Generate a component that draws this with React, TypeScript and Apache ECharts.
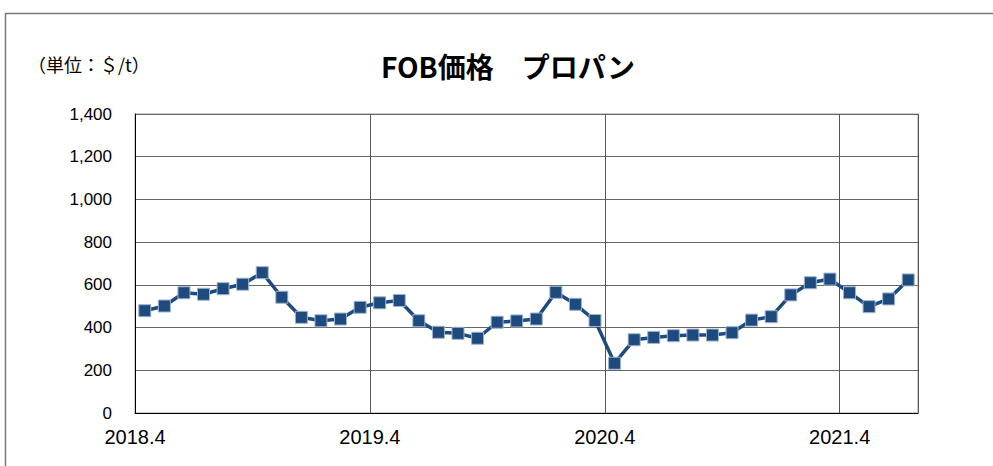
import React, { useEffect, useRef } from "react";
import * as echarts from "echarts";

const months: string[] = [
  "2018.4", "2018.5", "2018.6", "2018.7", "2018.8", "2018.9", "2018.10", "2018.11", "2018.12", "2019.1", "2019.2", "2019.3",
  "2019.4", "2019.5", "2019.6", "2019.7", "2019.8", "2019.9", "2019.10", "2019.11", "2019.12", "2020.1", "2020.2", "2020.3",
  "2020.4", "2020.5", "2020.6", "2020.7", "2020.8", "2020.9", "2020.10", "2020.11", "2020.12", "2021.1", "2021.2", "2021.3",
  "2021.4", "2021.5", "2021.6", "2021.7",
];

const propanePrice: number[] = [
  479, 501, 563, 556, 582, 603, 657, 542, 448, 432, 440, 495,
  516, 527, 432, 378, 373, 350, 425, 431, 440, 565, 509, 433,
  233, 343, 354, 362, 365, 365, 376, 435, 451, 553, 610, 627,
  563, 498, 534, 623,
];

const labeledTicks: number[] = [0, 12, 24, 36];
const yTicks = { min: 0, max: 1400, interval: 200 };

const titleText = "FOB価格　プロパン";
const unitText = "（単位：＄/t）";

export default function App() {
  const ref = useRef<HTMLDivElement>(null);
  useEffect(() => {
    if (!ref.current) return;
    const chart = echarts.init(ref.current, null, { renderer: "svg" });
    chart.setOption({
      animation: false,
      backgroundColor: "#ffffff",
      grid: {
        left: 135,
        right: 75,
        top: 114,
        bottom: 53,
        show: true,
        borderColor: "#9a9a9a",
        borderWidth: 1,
        containLabel: false,
      },
      graphic: [
        {
          type: "rect",
          shape: { x: 5.5, y: 13.5, width: 1100, height: 600 },
          style: { fill: "none", stroke: "#777", lineWidth: 1.5 },
          silent: true,
          z: -1,
        },
        {
          type: "text",
          left: 381,
          top: 52,
          style: {
            text: titleText,
            fill: "#000",
            font: "bold 28px 'Noto Sans CJK JP', sans-serif",
          },
        },
        {
          type: "text",
          left: 28,
          top: 55,
          style: {
            text: unitText,
            fill: "#000",
            font: "18px 'Noto Sans CJK JP', sans-serif",
          },
        },
      ],
      xAxis: {
        type: "value",
        min: 0,
        max: months.length,
        interval: 12,
        axisLine: { show: true, lineStyle: { color: "#000", width: 1 } },
        axisTick: { show: false },
        splitLine: { show: true, lineStyle: { color: "#555", width: 1 } },
        axisLabel: {
          margin: 14,
          color: "#000",
          fontSize: 20,
          fontFamily: "'Liberation Sans', Arial, sans-serif",
          showMaxLabel: false,
          formatter: (v: number) => (labeledTicks.includes(v) ? months[v] : ""),
        },
      },
      yAxis: {
        type: "value",
        min: yTicks.min,
        max: yTicks.max,
        interval: yTicks.interval,
        axisLine: { show: true, lineStyle: { color: "#000", width: 1 } },
        axisTick: { show: false },
        splitLine: { show: true, lineStyle: { color: "#666", width: 1 } },
        axisLabel: {
          margin: 23,
          color: "#000",
          fontSize: 17,
          fontFamily: "'Liberation Sans', Arial, sans-serif",
          formatter: (v: number) => v.toLocaleString("en-US"),
        },
      },
      series: [
        {
          type: "line",
          data: propanePrice.map((v, i) => [i + 0.5, v]),
          symbol: "rect",
          symbolSize: 12,
          lineStyle: { color: "#1F4A7E", width: 3.5 },
          itemStyle: { color: "#1F4A7E", borderColor: "#9bb3d0", borderWidth: 1 },
          z: 5,
        },
      ],
    });
    return () => chart.dispose();
  }, []);
  return (
    <div
      ref={ref}
      style={{ position: "fixed", left: 0, top: 0, width: 993, height: 466 }}
    />
  );
}
